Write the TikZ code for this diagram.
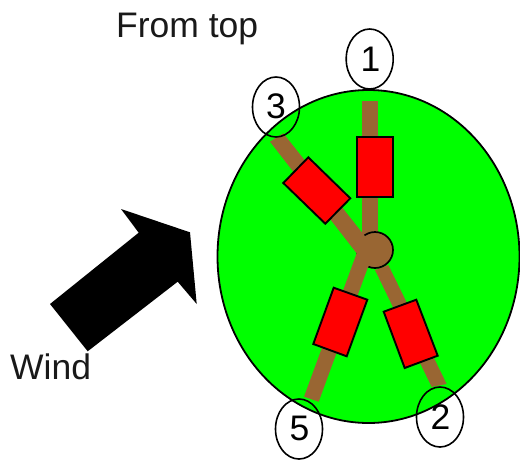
\documentclass[tikz,border=0pt]{standalone}
\usepackage{fontspec}
\setmainfont{Liberation Sans}
\usetikzlibrary{shapes.geometric}
\definecolor{bladebrown}{HTML}{996633}
\tikzset{
  x=1pt,y=-1pt,
  disc/.style={draw=black,fill=green,line width=1.8pt},
  blade/.style={fill=bladebrown},
  pitch/.style={draw=black,fill=red,line width=1.9pt,line join=miter},
  tag/.style={ellipse,draw=black,line width=1.6pt,minimum width=47pt,minimum height=60pt,inner sep=0pt,font=\fontsize{35.5}{35.5}\selectfont},
  caption/.style={anchor=base west,inner sep=0pt,font=\fontsize{35.5}{35.5}\selectfont,text=black!90}
}
\begin{document}
\begin{tikzpicture}
\useasboundingbox (0,0) rectangle (520,459);
% ground disc
\draw[disc] (368.5,256.5) ellipse [x radius=151,y radius=166.5];
% blades behind the hub
\fill[blade] (361.7,101) -- (377.7,101) -- (377.7,240) -- (361.7,240) -- cycle;
\fill[blade] (431.7,387) -- (446.7,384) -- (388.3,265) -- (375,270) -- cycle;
% hub
\draw[draw=black,fill=bladebrown,line width=1.7pt] (375,250) circle [radius=18];
% blades in front of the hub
\fill[blade] (270,141.7) -- (283.3,133.3) -- (368,240) -- (372,262) -- (368,267) -- (318.7,401.7) -- (304,396.7) -- (356.7,253.3) -- cycle;
% pitch rectangles
\draw[pitch] (357.3,136.7) -- (393.3,136.7) -- (393.3,196.7) -- (357.3,196.7) -- cycle;
\draw[pitch] (308.3,157.3) -- (350.3,198.3) -- (325.3,223.7) -- (283.3,183) -- cycle;
\draw[pitch] (333.7,287.7) -- (367.3,299.7) -- (346.7,356.3) -- (313.3,344) -- cycle;
\draw[pitch] (383.7,311.7) -- (416.3,299.7) -- (437.7,355.7) -- (404.7,368) -- cycle;
% wind arrow
\fill[black] (121,209) -- (190,232.3) -- (196.7,304) -- (177.7,281.7) -- (87.7,351.3) -- (50,304) -- (138.7,232.7) -- cycle;
% labels
\node[tag] (t1) at (369.7,59) {\raisebox{-1pt}{\hspace{1.5pt}1}};
\node[tag] (t3) at (276,107) {\raisebox{1pt}{3}};
\node[tag] (t5) at (299,429) {\raisebox{1pt}{\hspace{1pt}5}};
\node[tag] (t2) at (440,417) {\raisebox{-1pt}{\hspace{1pt}2}};
\node[caption] (top) at (116,37) {From top};
\node[caption] (wind) at (10,379) {Wind};
\end{tikzpicture}
\end{document}
